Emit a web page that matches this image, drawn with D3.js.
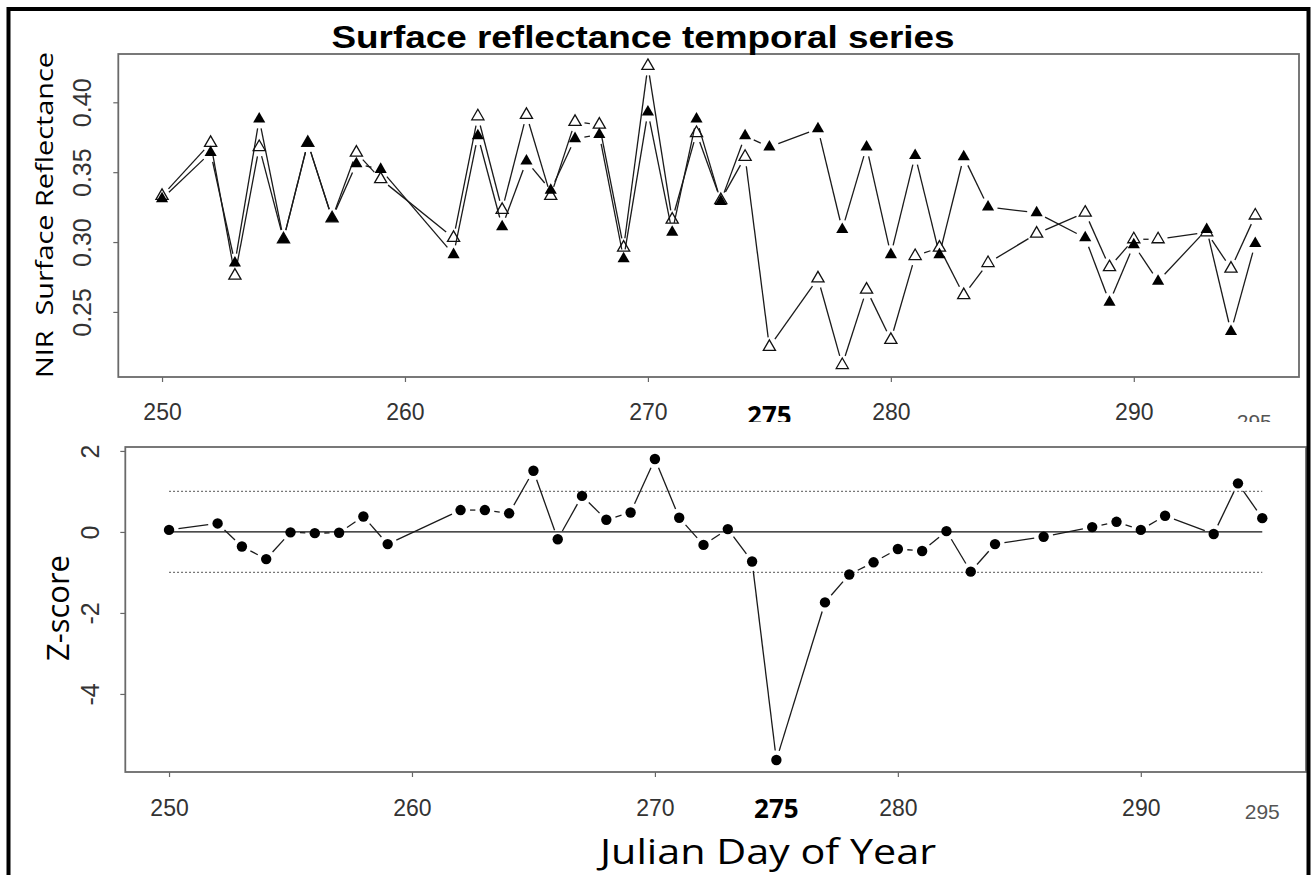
<!DOCTYPE html>
<html>
<head>
<meta charset="utf-8">
<script src="https://cdn.jsdelivr.net/npm/d3@7"></script>
<style>
  body { margin: 0; background: #fff; }
  svg { display: block; }
</style>
</head>
<body>
<svg id="chart" width="1311" height="875"></svg>
<script>
// Julian days of the observations
const days = [250, 252, 253, 254, 255, 256, 257, 258, 259, 262, 263, 264, 265, 266, 267, 268, 269, 270, 271, 272, 273, 274, 275, 277, 278, 279, 280, 281, 282, 283, 284, 286, 288, 289, 290, 291, 293, 294, 295];

// NIR surface reflectance, filled-triangle series
const nirSolid = [0.331, 0.364, 0.285, 0.388, 0.302, 0.371, 0.317, 0.356, 0.352, 0.291, 0.376, 0.311, 0.358, 0.337, 0.374, 0.377, 0.288, 0.393, 0.307, 0.388, 0.329, 0.376, 0.368, 0.381, 0.309, 0.368, 0.291, 0.362, 0.291, 0.361, 0.325, 0.321, 0.303, 0.257, 0.298, 0.272, 0.309, 0.236, 0.299];

// NIR surface reflectance, open-triangle series
const nirHollow = [0.333, 0.371, 0.276, 0.368, 0.302, 0.371, 0.317, 0.364, 0.345, 0.303, 0.390, 0.323, 0.391, 0.333, 0.386, 0.384, 0.296, 0.426, 0.316, 0.378, 0.330, 0.361, 0.225, 0.274, 0.212, 0.266, 0.230, 0.290, 0.296, 0.262, 0.285, 0.306, 0.321, 0.282, 0.302, 0.302, 0.307, 0.281, 0.319];

// Z-score of the reflectance difference
const zScores = [0.05, 0.21, -0.36, -0.67, -0.01, -0.03, -0.02, 0.38, -0.30, 0.54, 0.54, 0.46, 1.51, -0.18, 0.89, 0.30, 0.48, 1.80, 0.35, -0.32, 0.07, -0.73, -5.63, -1.74, -1.05, -0.75, -0.42, -0.47, 0.02, -0.98, -0.30, -0.12, 0.12, 0.25, 0.05, 0.40, -0.05, 1.20, 0.34];

// Tick values and reference levels
const dayTicks = [250, 260, 270, 280, 290];
const reflTicks = [0.25, 0.30, 0.35, 0.40];
const zTicks = [-4, -2, 0, 2];
const zBands = [1, -1];
const markedDay = "275";
const lastDay = "295";

const svg = d3.select("#chart");
const tickFont = "'Liberation Sans', Arial, Helvetica, sans-serif";
const labelFont = "'Open Sans', 'Noto Sans', sans-serif";

// R-style axis range: data extent padded by 4% on each side
function padded(ext) {
  const p = (ext[1] - ext[0]) * 0.04;
  return [ext[0] - p, ext[1] + p];
}

// Line segments between consecutive points, leaving a gap around each marker
function gappedSegments(pts, gap) {
  const segs = [];
  for (let i = 0; i < pts.length - 1; i++) {
    const [x0, y0] = pts[i], [x1, y1] = pts[i + 1];
    const dx = x1 - x0, dy = y1 - y0, L = Math.hypot(dx, dy);
    if (L > 2 * gap) {
      const ux = dx / L, uy = dy / L;
      segs.push([x0 + ux * gap, y0 + uy * gap, x1 - ux * gap, y1 - uy * gap]);
    }
  }
  return segs;
}

function drawSegments(g, pts, gap) {
  g.selectAll(null).data(gappedSegments(pts, gap)).join("line")
    .attr("x1", d => d[0]).attr("y1", d => d[1])
    .attr("x2", d => d[2]).attr("y2", d => d[3])
    .attr("stroke", "#1a1a1a").attr("stroke-width", 1.3);
}

function styleAxis(g) {
  g.select(".domain").remove();
  g.selectAll(".tick line").attr("stroke", "#666").attr("stroke-width", 1.2);
  g.selectAll(".tick text").attr("fill", "#333").attr("font-family", tickFont);
}

/* ---------------- Top panel: surface reflectance ---------------- */
const topBox = { left: 118.3, right: 1299, top: 54, bottom: 377 };
const xTop = d3.scaleLinear().domain(padded(d3.extent(days))).range([topBox.left, topBox.right]);
const yTop = d3.scaleLinear()
  .domain(padded(d3.extent(nirSolid.concat(nirHollow))))
  .range([topBox.bottom, topBox.top]);

const gTop = svg.append("g");

gTop.append("g")
  .attr("transform", `translate(0,${topBox.bottom})`)
  .call(d3.axisBottom(xTop).tickValues(dayTicks).tickFormat(d => String(d)).tickSize(5).tickPadding(22))
  .call(styleAxis)
  .call(g => g.selectAll(".tick text").attr("font-size", 23));

gTop.append("g")
  .attr("transform", `translate(${topBox.left},0)`)
  .call(d3.axisLeft(yTop).tickValues(reflTicks).tickFormat(d => d.toFixed(2)).tickSize(5))
  .call(styleAxis)
  .call(g => g.selectAll(".tick text")
    .attr("font-size", 25).attr("text-anchor", "middle")
    .attr("transform", "rotate(-90)").attr("x", 0).attr("y", -27).attr("dy", 0));

const hollowPts = days.map((d, i) => [xTop(d), yTop(nirHollow[i])]);
const solidPts = days.map((d, i) => [xTop(d), yTop(nirSolid[i])]);

drawSegments(gTop.append("g"), hollowPts, 9.5);
drawSegments(gTop.append("g"), solidPts, 9.5);

const tri = d3.symbol().type(d3.symbolTriangle).size(64);
gTop.append("g").selectAll("path").data(hollowPts).join("path")
  .attr("d", tri).attr("transform", d => `translate(${d[0]},${d[1]})`)
  .attr("fill", "none").attr("stroke", "#111").attr("stroke-width", 1.3);
gTop.append("g").selectAll("path").data(solidPts).join("path")
  .attr("d", tri).attr("transform", d => `translate(${d[0]},${d[1]})`)
  .attr("fill", "#000");

gTop.append("rect")
  .attr("x", topBox.left).attr("y", topBox.top)
  .attr("width", topBox.right - topBox.left).attr("height", topBox.bottom - topBox.top)
  .attr("fill", "none").attr("stroke", "#6a6a6a").attr("stroke-width", 1.8);

// Extra day labels under the top axis
gTop.append("text").text(markedDay)
  .attr("x", xTop(275)).attr("y", 425).attr("text-anchor", "middle")
  .attr("font-family", labelFont).attr("font-weight", "bold").attr("font-size", 26).attr("fill", "#000");
gTop.append("text").text(lastDay)
  .attr("x", xTop(295) - 1).attr("y", 429).attr("text-anchor", "middle")
  .attr("font-family", tickFont).attr("font-size", 21).attr("fill", "#555");

gTop.append("text").text("Surface reflectance temporal series")
  .attr("x", 643).attr("y", 48).attr("text-anchor", "middle")
  .attr("font-family", tickFont).attr("font-weight", "bold").attr("font-size", 32)
  .attr("textLength", 623).attr("lengthAdjust", "spacingAndGlyphs").attr("fill", "#000");

gTop.append("text").text("NIR  Surface Reflectance")
  .style("white-space", "pre")
  .attr("transform", "translate(43,215) rotate(-90)")
  .attr("text-anchor", "middle").attr("dominant-baseline", "central")
  .attr("font-family", labelFont).attr("font-size", 24)
  .attr("textLength", 326).attr("lengthAdjust", "spacingAndGlyphs").attr("fill", "#000");

/* ---------------- Bottom panel: Z-score ---------------- */
// White backing of the lower panel (trims the lower edge of the extra labels above)
svg.append("rect").attr("x", 12).attr("y", 422).attr("width", 1296).attr("height", 453).attr("fill", "#fff");

const botBox = { left: 125.3, right: 1306, top: 447, bottom: 772 };
const xBot = d3.scaleLinear().domain(padded(d3.extent(days))).range([botBox.left, botBox.right]);
const yBot = d3.scaleLinear().domain(padded(d3.extent(zScores))).range([botBox.bottom, botBox.top]);

const gBot = svg.append("g");

gBot.append("g")
  .attr("transform", `translate(0,${botBox.bottom})`)
  .call(d3.axisBottom(xBot).tickValues(dayTicks).tickFormat(d => String(d)).tickSize(5).tickPadding(23))
  .call(styleAxis)
  .call(g => g.selectAll(".tick text").attr("font-size", 23));

gBot.append("g")
  .attr("transform", `translate(${botBox.left},0)`)
  .call(d3.axisLeft(yBot).tickValues(zTicks).tickFormat(d => String(d)).tickSize(5))
  .call(styleAxis)
  .call(g => g.selectAll(".tick text")
    .attr("font-size", 25).attr("text-anchor", "middle")
    .attr("transform", "rotate(-90)").attr("x", 0).attr("y", -26).attr("dy", 0));

const xFirst = xBot(d3.min(days)), xLast = xBot(d3.max(days));
gBot.append("line")
  .attr("x1", xFirst).attr("x2", xLast).attr("y1", yBot(0)).attr("y2", yBot(0))
  .attr("stroke", "#111").attr("stroke-width", 1.3);
gBot.append("g").selectAll("line").data(zBands).join("line")
  .attr("x1", xFirst).attr("x2", xLast).attr("y1", d => yBot(d)).attr("y2", d => yBot(d))
  .attr("stroke", "#777").attr("stroke-width", 1.3).attr("stroke-dasharray", "2,2");

const zPts = days.map((d, i) => [xBot(d), yBot(zScores[i])]);
drawSegments(gBot.append("g"), zPts, 9.5);
gBot.append("g").selectAll("circle").data(zPts).join("circle")
  .attr("cx", d => d[0]).attr("cy", d => d[1]).attr("r", 5.2).attr("fill", "#000");

gBot.append("rect")
  .attr("x", botBox.left).attr("y", botBox.top)
  .attr("width", botBox.right - botBox.left).attr("height", botBox.bottom - botBox.top)
  .attr("fill", "none").attr("stroke", "#6a6a6a").attr("stroke-width", 1.8);

gBot.append("text").text(markedDay)
  .attr("x", xBot(275)).attr("y", 818).attr("text-anchor", "middle")
  .attr("font-family", labelFont).attr("font-weight", "bold").attr("font-size", 26).attr("fill", "#000");
gBot.append("text").text(lastDay)
  .attr("x", xBot(295)).attr("y", 819).attr("text-anchor", "middle")
  .attr("font-family", tickFont).attr("font-size", 21).attr("fill", "#555");

gBot.append("text").text("Z-score")
  .attr("transform", "translate(57,608) rotate(-90)")
  .attr("text-anchor", "middle").attr("dominant-baseline", "central")
  .attr("font-family", labelFont).attr("font-size", 31).attr("fill", "#000");

gBot.append("text").text("Julian Day of Year")
  .attr("x", 768).attr("y", 864).attr("text-anchor", "middle")
  .attr("font-family", labelFont).attr("font-size", 35)
  .attr("textLength", 336).attr("lengthAdjust", "spacingAndGlyphs").attr("fill", "#000");

// Outer frame
svg.append("rect")
  .attr("x", 8.5).attr("y", 9).attr("width", 1300).attr("height", 900)
  .attr("fill", "none").attr("stroke", "#000").attr("stroke-width", 4);
</script>
</body>
</html>
